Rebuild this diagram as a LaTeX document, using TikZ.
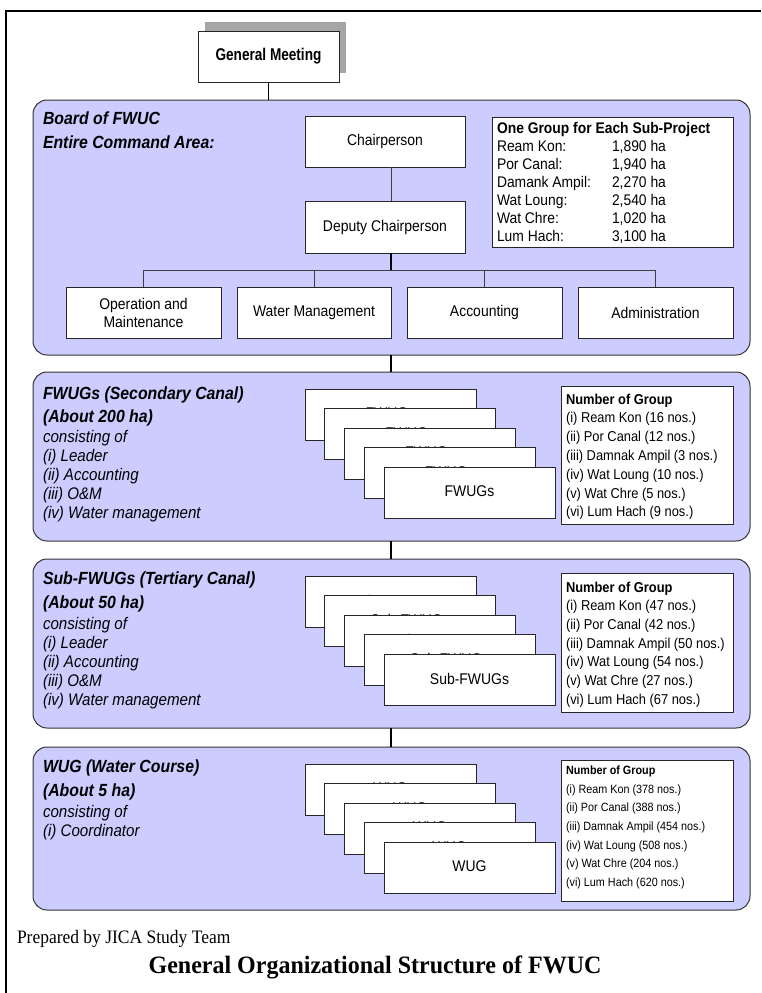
\documentclass[tikz,border=0pt]{standalone}
\usepackage{fontspec}
\setmainfont{Liberation Sans}[FakeStretch=0.9]
\newfontfamily\gmfont{Liberation Sans}[FakeStretch=0.8]
\newfontfamily\capfont{Liberation Serif}[FakeStretch=0.92]
\newfontfamily\titlefont{Liberation Serif}[FakeStretch=0.96]
\definecolor{panelfill}{RGB}{204,204,255}
\newcommand\fsz[2]{\fontsize{#1}{#2}\selectfont}
% label of a stacked card, set a little high so its top shows above the next card
\newcommand\cardlabel[1]{\raisebox{1pt}[\height][\depth]{#1}}
\begin{document}
\begin{tikzpicture}[x=1pt,y=-1pt,
  every node/.style={inner sep=0pt, outer sep=0pt},
  panel/.style={draw=black!80, line width=1pt, fill=panelfill, rounded corners=14pt, anchor=north west},
  box/.style={draw=black!85, line width=0.8pt, fill=white, align=center, font=\fsz{15.5}{18}},
  stackbox/.style={box, minimum width=171pt, minimum height=51pt},
  numbox/.style={draw=black!85, line width=0.8pt, fill=white, minimum width=172pt},
  conn/.style={draw=black, line width=1.1pt},
  thinconn/.style={draw=black!75, line width=0.7pt},
  head/.style={anchor=north west, align=left, font=\fsz{17.6}{24}\bfseries\itshape},
  members/.style={anchor=north west, align=left, font=\fsz{16.8}{19}\itshape},
  listtext/.style={anchor=north west, align=left},
]
\useasboundingbox (0,0) rectangle (761,993);

% outer frame (top and left edges)
\draw[line width=1.5pt] (6,993) -- (6,11) -- (761,11);

\coordinate (trunk) at (391,0);
\coordinate (bar) at (0,270);

% general meeting with its shadow
\node[fill=black!35, minimum width=141pt, minimum height=51pt] (gmshadow) at (275.5,47.5) {};
\node[box, minimum width=141pt, minimum height=51pt, font=\gmfont\fsz{17}{20}\bfseries] (gm) at (268.5,56.5) {General Meeting};

% ---------- board ----------
\node[panel, minimum width=717pt, minimum height=255pt] (board) at (33,100) {};
\draw[conn] (gm.south) -- (gm.south |- board.north);
\node[head] (boardhead) at (43,111.7) {Board of FWUC\\Entire Command Area:};

\node[box, minimum width=160pt, minimum height=51pt] (chair) at (385,141.5) {Chairperson};
\node[box, minimum width=160pt, minimum height=52pt] (deputy) at (385,227) {Deputy Chairperson};
\draw[thinconn] (chair.south -| trunk) -- (deputy.north -| trunk);

\node[box, minimum width=155pt, minimum height=51pt] (om) at (143.5,312.5) {Operation and\\Maintenance};
\node[box, minimum width=154pt, minimum height=51pt] (wm) at (314,312.5) {Water Management};
\node[box, minimum width=155pt, minimum height=51pt] (acc) at (484.5,312.5) {Accounting};
\node[box, minimum width=155pt, minimum height=51pt] (adm) at (655.5,312.5) {Administration};
\draw[conn] (deputy.south -| trunk) -- (bar -| trunk);
\draw[thinconn] (om.north) -- (om.north |- bar) -- (adm.north |- bar) -- (adm.north);
\draw[thinconn] (wm.north) -- (wm.north |- bar);
\draw[thinconn] (acc.north) -- (acc.north |- bar);

\node[numbox, minimum width=241pt, minimum height=130pt] (info) at (612.5,182) {};
\node[listtext, font=\fsz{15.4}{18}\bfseries] (infotitle) at (497,122.5) {One Group for Each Sub-Project};
\node[listtext, font=\fsz{15.4}{18}] (infonames) at (497,140.5) {Ream Kon:\\Por Canal:\\Damank Ampil:\\Wat Loung:\\Wat Chre:\\Lum Hach:};
\node[listtext, font=\fsz{15.4}{18}] (infoareas) at (612,140.5) {1,890 ha\\1,940 ha\\2,270 ha\\2,540 ha\\1,020 ha\\3,100 ha};

% ---------- FWUGs ----------
\node[panel, minimum width=717pt, minimum height=169pt] (fwugpanel) at (33,372) {};
\draw[conn] (board.south -| trunk) -- (fwugpanel.north -| trunk);
\node[head, font=\fsz{17.6}{23}\bfseries\itshape] (fwughead) at (43,386.7) {FWUGs (Secondary Canal)\\(About 200 ha)};
\node[members] (fwugmembers) at (43,430) {consisting of\\(i) Leader\\(ii) Accounting\\(iii) O\&M\\(iv) Water management};
\foreach \k in {0,...,4}
  \node[stackbox] (fwug\k) at ({390.5+19.75*\k},{414.5+19.5*\k}) {\cardlabel{FWUGs}};
\node[numbox, minimum height=138pt] (fwugnum) at (647,455) {};
\node[listtext, font=\fsz{14.3}{18.8}] (fwugcount) at (566,393.8) {\textbf{Number of Group}\\(i) Ream Kon (16 nos.)\\(ii) Por Canal (12 nos.)\\(iii) Damnak Ampil (3 nos.)\\(iv) Wat Loung (10 nos.)\\(v) Wat Chre (5 nos.)\\(vi) Lum Hach (9 nos.)};

% ---------- Sub-FWUGs ----------
\node[panel, minimum width=717pt, minimum height=169pt] (subpanel) at (33,559) {};
\draw[conn] (fwugpanel.south -| trunk) -- (subpanel.north -| trunk);
\node[head] (subhead) at (43,571.7) {Sub-FWUGs (Tertiary Canal)\\(About 50 ha)};
\node[members] (submembers) at (43,617) {consisting of\\(i) Leader\\(ii) Accounting\\(iii) O\&M\\(iv) Water management};
\foreach \k in {0,...,4}
  \node[stackbox] (sub\k) at ({390.5+19.75*\k},{601.5+19.5*\k}) {\cardlabel{Sub-FWUGs}};
\node[numbox, minimum height=139pt] (subnum) at (647,642.5) {};
\node[listtext, font=\fsz{14.3}{18.67}] (subcount) at (566,581.8) {\textbf{Number of Group}\\(i) Ream Kon (47 nos.)\\(ii) Por Canal (42 nos.)\\(iii) Damnak Ampil (50 nos.)\\(iv) Wat Loung (54 nos.)\\(v) Wat Chre (27 nos.)\\(vi) Lum Hach (67 nos.)};

% ---------- WUG ----------
\node[panel, minimum width=717pt, minimum height=163pt] (wugpanel) at (33,747) {};
\draw[conn] (subpanel.south -| trunk) -- (wugpanel.north -| trunk);
\node[head] (wughead) at (43,759.7) {WUG (Water Course)\\(About 5 ha)};
\node[members] (wugmembers) at (43,805) {consisting of\\(i) Coordinator};
\foreach \k in {0,...,4}
  \node[stackbox] (wug\k) at ({390.5+19.75*\k},{789.5+19.5*\k}) {\cardlabel{WUG}};
\node[numbox, minimum height=141pt] (wugnum) at (647,830.5) {};
\node[listtext, font=\fsz{12}{18.67}] (wugcount) at (566,765.7) {\textbf{Number of Group}\\(i) Ream Kon (378 nos.)\\(ii) Por Canal (388 nos.)\\(iii) Damnak Ampil (454 nos.)\\(iv) Wat Loung (508 nos.)\\(v) Wat Chre (204 nos.)\\(vi) Lum Hach (620 nos.)};

% ---------- captions ----------
\node[anchor=west, font=\capfont\fsz{19}{22}] (prepared) at (17,939) {Prepared by JICA Study Team};
\node[font=\titlefont\fsz{25}{28}\bfseries] (caption) at (375,967) {General Organizational Structure of FWUC};
\end{tikzpicture}
\end{document}
